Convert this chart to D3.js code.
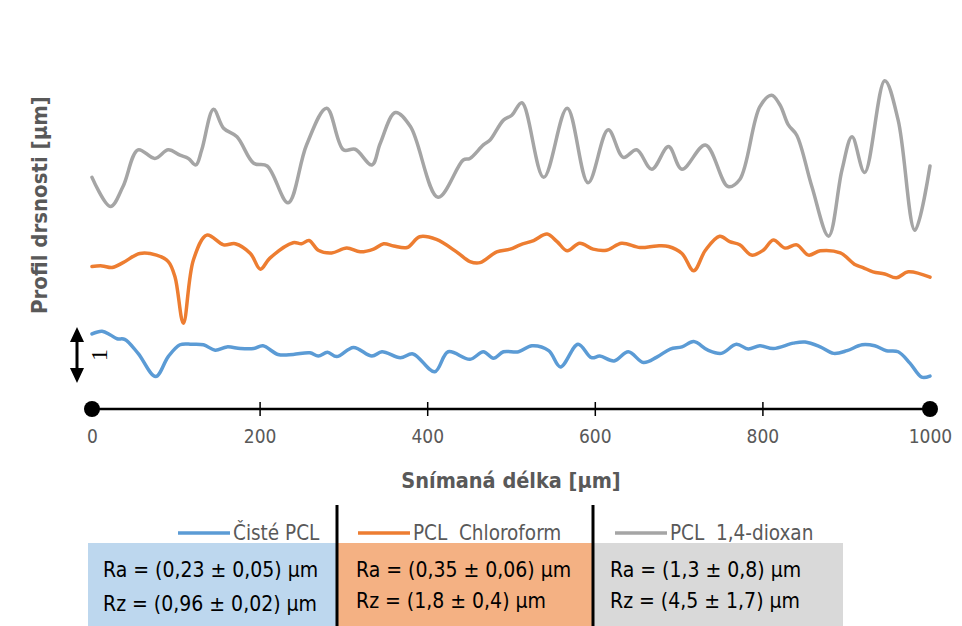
<!DOCTYPE html>
<html>
<head>
<meta charset="utf-8">
<script src="https://cdn.jsdelivr.net/npm/d3@7"></script>
<style>
  body { margin: 0; background: #fff; }
  svg { display: block; font-family: "Liberation Sans Narrow", "DejaVu Sans Condensed", sans-serif; }
</style>
</head>
<body>
<div class="canvas"></div>
<script>
// profile data, x in µm along scan, y in µm (series are stacked for display)
const cisteX = [0, 12, 22, 30, 39, 55, 76, 91, 105, 119, 133, 147, 161, 177, 193, 204, 222, 240, 260, 270, 281, 292, 312, 334, 346, 368, 383, 409, 425, 451, 467, 479, 491, 509, 525, 545, 559, 580, 596, 606, 623, 640, 658, 674, 690, 704, 718, 735, 751, 769, 783, 797, 813, 837, 851, 869, 885, 901, 919, 934, 948, 962, 976, 990, 1000];
const cisteY = [1.39, 1.44, 1.37, 1.30, 1.29, 1.03, 0.60, 0.97, 1.19, 1.20, 1.19, 1.09, 1.15, 1.12, 1.12, 1.17, 1.01, 1.01, 1.04, 0.98, 1.05, 0.97, 1.14, 0.98, 1.06, 0.95, 1.02, 0.69, 1.06, 0.92, 1.06, 0.94, 1.06, 1.06, 1.17, 1.08, 0.78, 1.20, 0.95, 0.98, 0.89, 1.06, 0.86, 0.96, 1.11, 1.15, 1.25, 1.09, 1.03, 1.20, 1.11, 1.17, 1.12, 1.22, 1.24, 1.15, 1.03, 1.08, 1.19, 1.17, 1.08, 1.06, 0.85, 0.59, 0.61];

const chloroX = [0, 12, 24, 37, 57, 77, 91, 99, 109, 121, 137, 157, 171, 189, 201, 212, 240, 250, 259, 270, 286, 304, 320, 336, 348, 360, 376, 391, 411, 435, 451, 463, 483, 499, 511, 527, 543, 555, 567, 582, 598, 614, 632, 654, 674, 688, 704, 718, 732, 749, 761, 773, 787, 801, 813, 827, 841, 855, 869, 893, 911, 920, 932, 946, 960, 974, 1000];
const chloroY = [2.64, 2.65, 2.62, 2.71, 2.88, 2.85, 2.73, 2.45, 1.59, 2.76, 3.22, 3.04, 3.06, 2.88, 2.59, 2.79, 3.08, 3.06, 3.12, 2.94, 2.89, 2.98, 2.91, 2.96, 3.06, 3.02, 2.99, 3.19, 3.14, 2.91, 2.73, 2.71, 2.91, 2.96, 3.04, 3.12, 3.24, 3.10, 2.93, 3.07, 2.96, 2.94, 3.07, 2.99, 3.02, 3.01, 2.88, 2.56, 2.94, 3.20, 3.10, 3.04, 2.85, 2.94, 3.13, 2.98, 3.04, 2.85, 2.93, 2.89, 2.67, 2.62, 2.54, 2.50, 2.43, 2.54, 2.44];

const dioxanX = [0, 22, 37, 55, 75, 91, 105, 115, 124, 131, 145, 157, 173, 193, 209, 234, 256, 280, 300, 314, 334, 344, 362, 380, 413, 443, 451, 467, 475, 491, 501, 513, 539, 567, 592, 616, 634, 650, 668, 688, 704, 732, 759, 773, 797, 811, 821, 831, 841, 859, 879, 895, 907, 922, 946, 962, 982, 1000];
const dioxanY = [4.29, 3.75, 4.12, 4.80, 4.64, 4.80, 4.70, 4.64, 4.52, 4.80, 5.55, 5.20, 5.04, 4.55, 4.50, 3.82, 4.89, 5.57, 4.80, 4.81, 4.52, 4.92, 5.49, 5.23, 3.92, 4.61, 4.64, 4.89, 4.98, 5.35, 5.44, 5.67, 4.29, 5.57, 4.19, 5.17, 4.66, 4.80, 4.44, 4.86, 4.44, 4.89, 4.12, 4.25, 5.60, 5.81, 5.63, 5.26, 5.07, 4.12, 3.20, 4.43, 5.04, 4.38, 6.08, 5.35, 3.31, 4.50];

const xTicks = [0, 200, 400, 600, 800, 1000];
const seriesNames = ["Čisté PCL", "PCL  Chloroform", "PCL  1,4-dioxan"];
const raLabels = ["Ra = (0,23 ± 0,05) µm", "Ra = (0,35 ± 0,06) µm", "Ra = (1,3 ± 0,8) µm"];
const rzLabels = ["Rz = (0,96 ± 0,02) µm", "Rz = (1,8 ± 0,4) µm", "Rz = (4,5 ± 1,7) µm"];

const lineColours = ["#5B9BD5", "#ED7D31", "#A5A5A5"];
const boxColours = ["#BDD7EE", "#F4B183", "#D9D9D9"];

const svg = d3.select('.canvas')
  .append('svg')
  .attr('width', 962)
  .attr('height', 626);

const x = d3.scaleLinear().domain([0, 1000]).range([92, 930]);
const y = d3.scaleLinear().domain([0, 6.5]).range([409, 58]);

const line = d3.line()
  .x(d => x(d[0]))
  .y(d => y(d[1]))
  .curve(d3.curveCatmullRom.alpha(0.5));

const series = [
  d3.zip(cisteX, cisteY),
  d3.zip(chloroX, chloroY),
  d3.zip(dioxanX, dioxanY)
];

// profile lines
svg.append('g').selectAll('path')
  .data(series)
  .enter().append('path')
    .attr('d', line)
    .attr('fill', 'none')
    .attr('stroke', (d, i) => lineColours[i])
    .attr('stroke-width', 3.5)
    .attr('stroke-linejoin', 'round')
    .attr('stroke-linecap', 'round');

// x axis
const xAxis = d3.axisBottom(x)
  .tickValues(xTicks)
  .tickFormat(d3.format('d'))
  .tickSize(14)
  .tickPadding(14);

const axisG = svg.append('g')
  .attr('transform', `translate(0, ${y(0)})`)
  .call(xAxis);
axisG.select('.domain').remove();
axisG.selectAll('.tick line')
  .attr('y1', -7).attr('y2', 7)
  .attr('stroke', '#000').attr('stroke-width', 1.5);
axisG.selectAll('.tick text')
  .attr('y', 21)
  .attr('dy', '0.71em')
  .attr('fill', '#595959')
  .style('font-family', '"Liberation Sans Narrow", "DejaVu Sans Condensed", sans-serif')
  .style('font-size', '19px');

axisG.append('line')
  .attr('x1', x(0)).attr('x2', x(1000))
  .attr('stroke', '#000').attr('stroke-width', 2.5);
axisG.selectAll('circle.end')
  .data([0, 1000])
  .enter().append('circle')
    .attr('cx', d => x(d))
    .attr('r', 8)
    .attr('fill', '#000');

// axis titles
svg.append('text')
  .attr('x', x(500)).attr('y', 488)
  .attr('text-anchor', 'middle')
  .attr('font-weight', 'bold')
  .attr('font-size', 21.5)
  .attr('fill', '#595959')
  .text('Snímaná délka [µm]');

svg.append('text')
  .attr('transform', 'translate(47, 205) rotate(-90)')
  .attr('text-anchor', 'middle')
  .attr('font-weight', 'bold')
  .attr('font-size', 22)
  .attr('fill', '#595959')
  .text('Profil drsnosti [µm]');

// 1 µm scale arrow
const arrow = svg.append('g');
arrow.append('line')
  .attr('x1', 77).attr('x2', 77)
  .attr('y1', y(1.25)).attr('y2', y(0.65))
  .attr('stroke', '#000').attr('stroke-width', 3);
arrow.append('path')
  .attr('d', `M77,${y(1.5) - 1} L70,${y(1.5) + 14} L84,${y(1.5) + 14} Z`)
  .attr('fill', '#000');
arrow.append('path')
  .attr('d', `M77,${y(0.5) + 1} L70,${y(0.5) - 14} L84,${y(0.5) - 14} Z`)
  .attr('fill', '#000');
arrow.append('text')
  .attr('transform', `translate(99, ${y(1)}) rotate(-90)`)
  .attr('text-anchor', 'middle')
  .attr('dy', '0.35em')
  .attr('font-family', '"Liberation Serif", serif')
  .attr('font-size', 24)
  .text('1');

// legend + value boxes
const cols = [88, 337, 593, 843];
const legendG = svg.append('g');

legendG.selectAll('rect')
  .data(boxColours)
  .enter().append('rect')
    .attr('x', (d, i) => cols[i])
    .attr('y', 543)
    .attr('width', (d, i) => cols[i + 1] - cols[i])
    .attr('height', 90)
    .attr('fill', d => d);

const legendLineX = [178, 358, 615];
legendG.selectAll('line.key')
  .data(lineColours)
  .enter().append('line')
    .attr('x1', (d, i) => legendLineX[i])
    .attr('x2', (d, i) => legendLineX[i] + 52)
    .attr('y1', 533).attr('y2', 533)
    .attr('stroke', d => d)
    .attr('stroke-width', 3.5);

legendG.selectAll('text.key')
  .data(seriesNames)
  .enter().append('text')
    .attr('x', (d, i) => legendLineX[i] + 55)
    .attr('y', 540)
    .attr('font-size', 20.5)
    .attr('fill', '#595959')
    .attr('xml:space', 'preserve')
    .style('white-space', 'pre')
    .text(d => d);

const textX = [103, 356, 610];
legendG.selectAll('text.ra')
  .data(raLabels)
  .enter().append('text')
    .attr('x', (d, i) => textX[i])
    .attr('y', 577)
    .attr('font-size', 21)
    .attr('fill', '#000')
    .text(d => d);
legendG.selectAll('text.rz')
  .data(rzLabels)
  .enter().append('text')
    .attr('x', (d, i) => textX[i])
    .attr('y', (d, i) => i === 0 ? 611 : 608)
    .attr('font-size', 21)
    .attr('fill', '#000')
    .text(d => d);

// column dividers
legendG.selectAll('line.div')
  .data([cols[1], cols[2]])
  .enter().append('line')
    .attr('x1', d => d).attr('x2', d => d)
    .attr('y1', 505).attr('y2', 626)
    .attr('stroke', '#000')
    .attr('stroke-width', 3);
</script>
</body>
</html>
